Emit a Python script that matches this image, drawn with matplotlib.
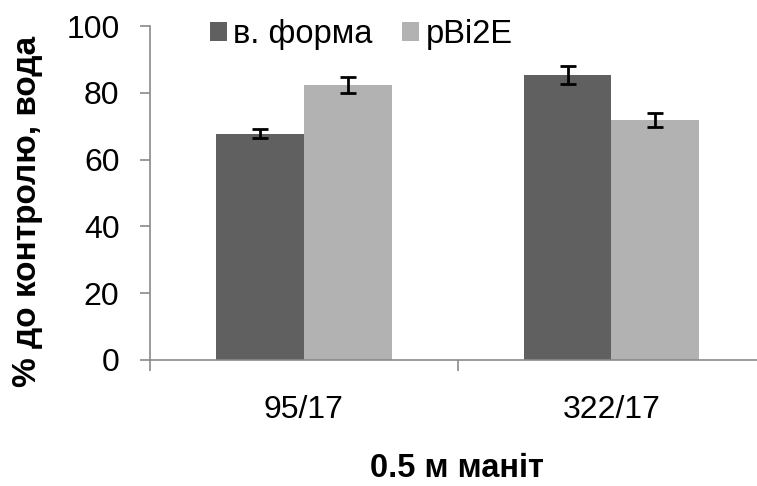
import matplotlib
import numpy as np

matplotlib.use("Agg")
import matplotlib.pyplot as plt

categories = ["95/17", "322/17"]
series_names = ["в. форма", "pBi2E"]
wild_vals = [67.8, 85.4]
wild_err = [1.4, 2.6]
pbi_vals = [82.5, 72.0]
pbi_err = [2.4, 2.1]

DARK, LIGHT, AXIS = "#606060", "#b2b2b2", "#8a8a8a"

plt.rcParams.update({"font.family": ["Liberation Sans", "DejaVu Sans"]})

fig = plt.figure(figsize=(7.57, 4.86), dpi=100)
# plot area runs past the right edge, as in the cropped original
ax = fig.add_axes([0.1982, 0.2593, 0.8018, 0.687])

x = np.arange(len(categories))
w = 0.2853
err_kw = dict(ecolor="black", elinewidth=2, capsize=5.5, capthick=2)
ax.bar(x - w / 2, wild_vals, w, color=DARK, yerr=wild_err, error_kw=err_kw,
       label=series_names[0], zorder=2)
ax.bar(x + w / 2, pbi_vals, w, color=LIGHT, yerr=pbi_err, error_kw=err_kw,
       label=series_names[1], zorder=2)

ax.set_ylim(0, 100)
ax.set_yticks([0, 20, 40, 60, 80, 100])
ax.set_xlim(-0.5, 1.473)
ax.set_xticks(x)
ax.set_xticklabels(categories)
# category boundary ticks like the spreadsheet axis
ax.set_xticks([-0.5, 0.5], minor=True)
ax.tick_params(axis="x", which="major", length=0, pad=25, labelsize=23)
ax.tick_params(axis="x", which="minor", length=8, color=AXIS, width=1.2)
ax.tick_params(axis="y", length=7, color=AXIS, width=1.2, pad=15, labelsize=23)

for s in ("top", "right"):
    ax.spines[s].set_visible(False)
for s in ("left", "bottom"):
    ax.spines[s].set_color(AXIS)
    ax.spines[s].set_linewidth(1.2)

fig.text(0.036, 0.564, "% до контролю, вода", rotation=90, ha="center", va="center",
         fontsize=24, fontweight="bold")
fig.text(0.603, 0.035, "0.5 м маніт", ha="center", va="center",
         fontsize=23.5, fontweight="bold")

ax.legend(loc="center left", bbox_to_anchor=(0.2774, 0.928), bbox_transform=fig.transFigure,
          ncol=2, frameon=False, fontsize=23.5, handlelength=0.52, handleheight=0.52,
          handletextpad=0.2, columnspacing=0.9, borderaxespad=0, borderpad=0)

fig.savefig("out.png", dpi=100)
